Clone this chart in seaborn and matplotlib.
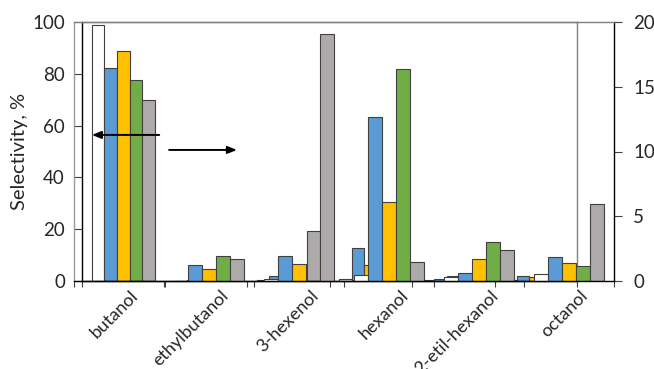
import numpy as np
import pandas as pd
import matplotlib
matplotlib.use("Agg")
import matplotlib.pyplot as plt
import matplotlib.patheffects as pe
import matplotlib.transforms as mtrans
import seaborn as sns

# --- data -------------------------------------------------------------
alcohols = ["butanol", "ethylbutanol", "3-hexenol", "hexanol",
            "2-etil-hexanol", "octanol"]
series = ["S1", "S2", "S3", "S4", "S5"]
colors = ["#FFFFFF", "#5B9BD5", "#FFC000", "#70AD47", "#AEAAAA"]

# selectivity on the left axis (0-100 %)
left_s1 = [98.8, 0.0, 0.3, 0.7, 0.3, 0.3]
left_s2 = [82.1, 0.5, 1.8, 12.6, 0.8, 1.8]
left_s3 = [88.7, 0.0, 0.0, 6.0, 1.8, 1.4]
left_s4 = [77.6, 0.0, 0.0, 0.0, 0.0, 0.0]
left_s5 = [69.8, 0.0, 19.3, 0.0, 0.0, 0.0]

# selectivity on the right axis (0-20 %)
right_s1 = [0.0, 0.0, 0.13, 0.5, 0.3, 0.54]
right_s2 = [0.0, 1.24, 1.93, 12.64, 0.64, 1.83]
right_s3 = [0.0, 0.9, 1.31, 6.12, 1.7, 1.41]
right_s4 = [0.0, 1.93, 0.0, 16.4, 3.0, 1.13]
right_s5 = [0.0, 1.72, 19.1, 1.44, 2.42, 5.95]

left_ticks = [0, 20, 40, 60, 80, 100]
right_ticks = [0, 5, 10, 15, 20]


def long_table(cols):
    rows = []
    for name, vals in zip(series, cols):
        for a, v in zip(alcohols, vals):
            rows.append({"alcohol": a, "series": name, "sel": v})
    return pd.DataFrame(rows)


df_left = long_table([left_s1, left_s2, left_s3, left_s4, left_s5])
df_right = long_table([right_s1, right_s2, right_s3, right_s4, right_s5])

# --- figure -----------------------------------------------------------
sns.set_theme(style="white")
plt.rcParams["font.family"] = ["Lato", "DejaVu Sans"]

W, H = 654, 369
fig = plt.figure(figsize=(W / 100, H / 100), dpi=100)


def box(x0, x1, y0, y1):
    return [x0 / W, 1 - y1 / H, (x1 - x0) / W, (y1 - y0) / H]


ax1 = fig.add_axes(box(82, 577, 22, 281))
ax2 = fig.add_axes(box(74, 614, 22, 281))
ax2.patch.set_alpha(0)

pal = dict(zip(series, colors))
shadow = [pe.withSimplePatchShadow(offset=(0.6, -0.4), shadow_rgbFace="#9a9a9a",
                                   alpha=0.5)]

sns.barplot(data=df_left, x="alcohol", y="sel", hue="series", palette=pal,
            order=alcohols, hue_order=series, width=0.758, saturation=1,
            edgecolor="#404040", linewidth=0.8, legend=False, ax=ax1)
sns.barplot(data=df_right, x="alcohol", y="sel", hue="series", palette=pal,
            order=alcohols, hue_order=series, width=0.778, saturation=1,
            edgecolor="#404040", linewidth=0.8, legend=False, ax=ax2)
for ax in (ax1, ax2):
    for p in ax.patches:
        p.set_path_effects(shadow)

for ax in (ax1, ax2):
    ax.set_xlim(-0.5, len(alcohols) - 0.5)
    ax.set_xlabel("")
    ax.set_ylabel("")
    ax.set_xticks(np.arange(-0.5, len(alcohols), 1.0))
    ax.set_xticklabels([])
    ax.tick_params(axis="x", which="major", direction="out", length=4.3,
                   width=0.8, color="#404040", bottom=True)

TICK_FS = 13.5

# left (primary) axis
ax1.set_ylim(0, 100)
ax1.set_yticks(left_ticks)
ax1.tick_params(axis="y", direction="out", length=5.8, width=0.8,
                color="#404040", labelsize=TICK_FS, pad=6.5, left=True)
ax1.set_ylabel("Selectivity, %", fontsize=14.5)
ax1.yaxis.set_label_coords(-0.109, 0.5)
for s in ("left", "bottom"):
    ax1.spines[s].set_color("black")
    ax1.spines[s].set_linewidth(1.0)
for s in ("top", "right"):
    ax1.spines[s].set_color("#808080")
    ax1.spines[s].set_linewidth(1.0)

# right (secondary) axis
ax2.set_ylim(0, 20)
ax2.yaxis.tick_right()
ax2.set_yticks(right_ticks)
ax2.tick_params(axis="y", direction="out", length=5.8, width=0.8,
                color="#404040", labelsize=TICK_FS, pad=8, right=True,
                left=False, labelleft=False, labelright=True)
ax2.spines["left"].set_color("#9a9a9a")
ax2.spines["top"].set_color("#808080")
ax2.spines["right"].set_color("black")
ax2.spines["bottom"].set_color("black")
for s in ax2.spines.values():
    s.set_linewidth(1.0)

# category names, between the tick marks
ax2.set_xticks(np.arange(len(alcohols)), minor=True)
ax2.set_xticklabels(alcohols, minor=True, rotation=45, ha="right",
                    rotation_mode="anchor", fontsize=13)
ax2.tick_params(axis="x", which="minor", length=0, pad=4.5)
offset = mtrans.ScaledTranslation(11 / 100, 0, fig.dpi_scale_trans)
for lbl in ax2.get_xticklabels(minor=True):
    lbl.set_transform(lbl.get_transform() + offset)

# arrows pointing to the axis each group belongs to
arrow = dict(arrowstyle="-|>,head_length=0.45,head_width=0.18", color="black",
             lw=1.4, shrinkA=0, shrinkB=0)
ax1.annotate("", xy=(0.020, 0.564), xytext=(0.156, 0.564),
             xycoords="axes fraction", arrowprops=arrow)
ax1.annotate("", xy=(0.313, 0.506), xytext=(0.176, 0.506),
             xycoords="axes fraction", arrowprops=arrow)

fig.savefig("out.png", dpi=100)
